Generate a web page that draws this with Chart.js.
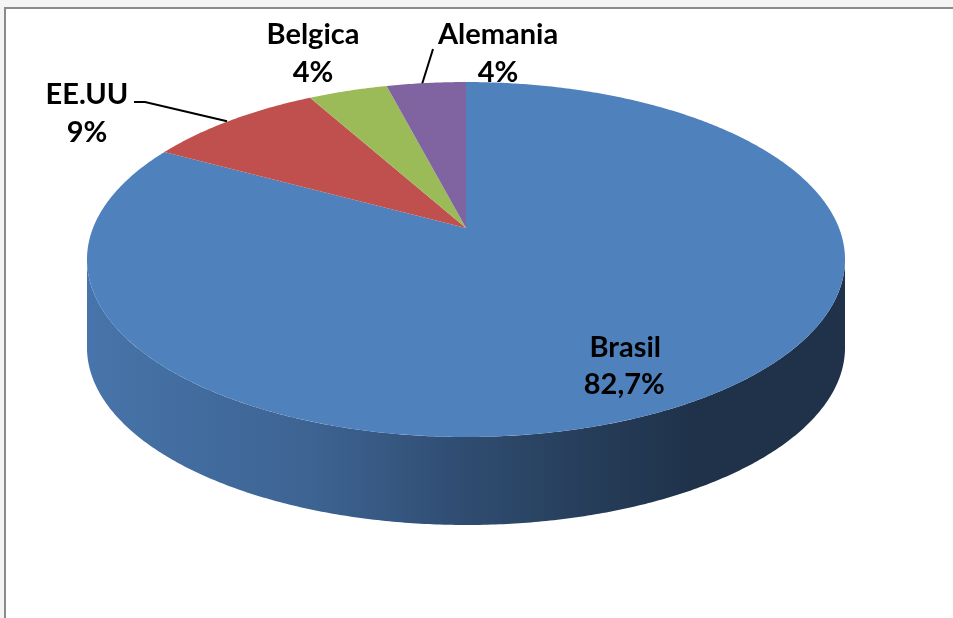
<!DOCTYPE html>
<html>
<head>
<meta charset="utf-8">
<script src="https://cdn.jsdelivr.net/npm/chart.js@4.4.1/dist/chart.umd.min.js"></script>
<style>
  html, body { margin: 0; padding: 0; background: #f4f4f4; width: 953px; height: 618px; overflow: hidden; }
  #frame { position: absolute; left: 4px; top: 7px; right: 0; bottom: 0; background: #ffffff;
           border-top: 2px solid #8a8a8a; border-left: 2px solid #8a8a8a; }
  #c { position: absolute; left: 0; top: 0; }
</style>
</head>
<body>
<div id="frame"></div>
<canvas id="c" width="953" height="618"></canvas>
<script>
// ---- data ----
const categories  = ['Brasil', 'EE.UU', 'Belgica', 'Alemania'];
const shares      = [82.7, 9, 4, 4];
const shareLabels = ['82,7%', '9%', '4%', '4%'];

// ---- styles / layout ----
const sliceColors = ['#4f81bd', '#c0504d', '#9bbb59', '#8064a2'];
const PIE = { cx: 466, cy: 228, a: 373, b: 171.9, t: 0.1775, depth: 88 };
const FONT = 'bold 29px Lato, "Open Sans", sans-serif';
const LINE_GAP = 38;
// outside label placement: text centre x, first baseline, leader start points
const outsideLabels = {
  'EE.UU':    { x: 87,  y: 104, leader: [[134, 102], [145, 102]] },
  'Belgica':  { x: 313, y: 44,  leader: null },
  'Alemania': { x: 498, y: 44,  leader: [[433, 49]] }
};

function proj(alpha, r) {
  const u = r * Math.cos(alpha), v = r * Math.sin(alpha);
  const w = 1 - PIE.t * v;
  return { x: PIE.cx + PIE.a * u / w, y: PIE.cy + PIE.b * v / w };
}
function shade(hex, f) {
  const n = parseInt(hex.slice(1), 16);
  const r = Math.round(((n >> 16) & 255) * f), g = Math.round(((n >> 8) & 255) * f), b = Math.round((n & 255) * f);
  return `rgb(${r},${g},${b})`;
}

const pie3d = {
  id: 'pie3d',
  beforeDatasetsDraw(chart) {
    const ctx = chart.ctx;
    const meta = chart.getDatasetMeta(0);
    const arcs = meta.data;
    const step = Math.PI / 360;

    // outside labels (drawn under the pie)
    ctx.save();
    ctx.font = FONT; ctx.fillStyle = '#000'; ctx.textAlign = 'center'; ctx.textBaseline = 'alphabetic';
    arcs.forEach((el, i) => {
      const L = outsideLabels[categories[i]];
      if (!L) return;
      ctx.fillText(categories[i], L.x, L.y);
      ctx.fillText(shareLabels[i], L.x, L.y + LINE_GAP);
      if (L.leader) {
        const mid = (el.startAngle + el.endAngle) / 2;
        const p = proj(mid, 1);
        ctx.beginPath();
        ctx.moveTo(L.leader[0][0], L.leader[0][1]);
        for (let k = 1; k < L.leader.length; k++) ctx.lineTo(L.leader[k][0], L.leader[k][1]);
        ctx.lineTo(p.x - 4, p.y + 1);
        ctx.strokeStyle = '#000'; ctx.lineWidth = 2; ctx.stroke();
      }
    });
    ctx.restore();

    // side walls (visible front range)
    const visA = Math.asin(PIE.t), visB = Math.PI - Math.asin(PIE.t);
    arcs.forEach((el, i) => {
      const col = el.options.backgroundColor;
      for (let k = -1; k <= 1; k++) {
        const s = Math.max(el.startAngle, visA + k * 2 * Math.PI);
        const e = Math.min(el.endAngle, visB + k * 2 * Math.PI);
        if (e <= s) continue;
        ctx.save();
        const g = ctx.createLinearGradient(PIE.cx - 379, 0, PIE.cx + 379, 0);
        g.addColorStop(0.0, shade(col, 0.90));
        g.addColorStop(0.3, shade(col, 0.77));
        g.addColorStop(0.5, shade(col, 0.59));
        g.addColorStop(0.7, shade(col, 0.45));
        g.addColorStop(0.8, shade(col, 0.39));
        g.addColorStop(1.0, shade(col, 0.39));
        ctx.beginPath();
        for (let a = s; a <= e; a += step) { const p = proj(a, 1); ctx.lineTo(p.x, p.y); }
        let p = proj(e, 1); ctx.lineTo(p.x, p.y);
        ctx.lineTo(p.x, p.y + PIE.depth);
        for (let a = e; a >= s; a -= step) { const q = proj(a, 1); ctx.lineTo(q.x, q.y + PIE.depth); }
        p = proj(s, 1); ctx.lineTo(p.x, p.y + PIE.depth);
        ctx.closePath();
        ctx.fillStyle = g; ctx.fill();
        ctx.restore();
      }
    });

    // top faces
    arcs.forEach((el) => {
      ctx.save();
      ctx.beginPath();
      ctx.moveTo(PIE.cx, PIE.cy);
      for (let a = el.startAngle; a <= el.endAngle; a += step) { const p = proj(a, 1); ctx.lineTo(p.x, p.y); }
      const p = proj(el.endAngle, 1); ctx.lineTo(p.x, p.y);
      ctx.closePath();
      ctx.fillStyle = el.options.backgroundColor; ctx.fill();
      ctx.restore();
    });

    // inside label (Brasil)
    ctx.save();
    ctx.font = FONT; ctx.fillStyle = '#000'; ctx.textAlign = 'center'; ctx.textBaseline = 'alphabetic';
    arcs.forEach((el, i) => {
      if (outsideLabels[categories[i]]) return;
      const mid = (el.startAngle + el.endAngle) / 2;
      const p = proj(mid, 0.75);
      ctx.fillText(categories[i], p.x - 2, p.y + 4);
      ctx.fillText(shareLabels[i], p.x - 3, p.y + 4 + LINE_GAP - 1);
    });
    ctx.restore();
    return false;
  }
};

new Chart(document.getElementById('c'), {
  type: 'pie',
  data: {
    labels: categories,
    datasets: [{ data: shares, backgroundColor: sliceColors, borderWidth: 0 }]
  },
  options: {
    responsive: false,
    animation: false,
    devicePixelRatio: 1,
    rotation: 0,
    plugins: { legend: { display: false }, tooltip: { enabled: false } }
  },
  plugins: [pie3d]
});
</script>
</body>
</html>
